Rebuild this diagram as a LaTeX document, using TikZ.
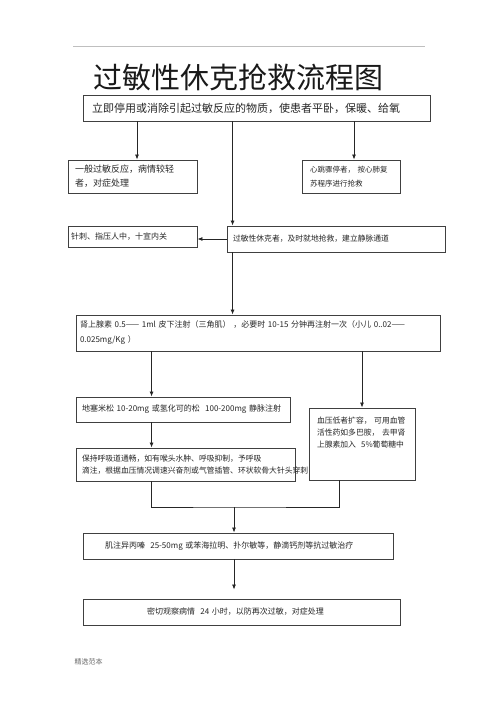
\documentclass[tikz,border=0pt]{standalone}
\usepackage{fontspec}
\setmainfont{Noto Sans CJK SC}
\usetikzlibrary{arrows.meta}

\begin{document}
\begin{tikzpicture}[x=1pt, y=-1pt, >={Latex[length=5pt,width=4pt]},
        box/.style={draw=black!75, line width=0.9pt, inner xsep=2pt, inner ysep=2pt, align=left, text=black!85, font=\fontsize{8}{12}\selectfont},
        link/.style={line width=0.8pt, black!85}]
        \useasboundingbox[fill=white] (0,0) rectangle (500,708);

        % Title
        \draw[black!25, line width=0.6pt] (73,46) -- (425,46);
        \node[font=\fontsize{29}{32}\selectfont, text=black!90] (title) at (238,77) {过敏性休克抢救流程图};

        % First steps
        \node[box, minimum width=347pt, minimum height=26pt, text width=329pt, font=\fontsize{11}{14}\selectfont] (stop) at (256.5,108) {立即停用或消除引起过敏反应的物质，使患者平卧，保暖、给氧};
        \node[box, minimum width=129pt, minimum height=33pt, text width=115pt, font=\fontsize{9}{14}\selectfont] (mild) at (132.5,176.5) {一般过敏反应，病情较轻\\者，对症处理};
        \node[box, minimum width=98pt, minimum height=33pt, text width=82pt, font=\fontsize{7.5}{14}\selectfont] (arrest) at (351,176.5) {心跳骤停者，~按心肺复\\苏程序进行抢救};
        \node[box, minimum width=129pt, minimum height=21pt, text width=123pt] (acup) at (132.5,236.5) {针刺、指压人中，十宣内关};
        \node[box, minimum width=218pt, minimum height=26pt, text width=206pt, font=\fontsize{7.8}{12}\selectfont] (shock) at (336,239) {过敏性休克者，及时就地抢救，建立静脉通道};

        % Drugs
        \node[box, minimum width=364pt, minimum height=36pt, text width=356pt, font=\fontsize{8}{15}\selectfont] (adren) at (258,333) {\mbox{肾上腺素~0.5——~1ml~皮下注射（三角肌）~，必要时~10-15~分钟再注射一次（小儿~0..02——}\\0.025mg/Kg~）};
        \node[box, minimum width=214pt, minimum height=25pt, text width=202pt] (dexa) at (183,409.5) {\mbox{地塞米松~10-20mg~或氢化可的松~~100-200mg~静脉注射}};
        \node[box, minimum width=106pt, minimum height=72pt, text width=90pt, font=\fontsize{7.8}{12}\selectfont] (bp) at (362,444) {血压低者扩容，~可用血管\\活性药如多巴胺，~去甲肾\\上腺素加入~~5\%葡萄糖中\rule[-24pt]{0pt}{0pt}};
        \node[box, minimum width=219pt, minimum height=33pt, text width=207pt, font=\fontsize{7.8}{11.5}\selectfont] (keep) at (185.5,464.5) {保持呼吸道通畅，如有喉头水肿、呼吸抑制，予呼吸\\\mbox{滴注，根据血压情况调速兴奋剂或气管插管、环状软骨大针头穿刺}};
        \node[box, minimum width=310pt, minimum height=26pt, text width=266pt] (inj) at (238,546) {\mbox{肌注异丙嗪~~25-50mg~或苯海拉明、扑尔敏等，静滴钙剂等抗过敏治疗}};
        \node[box, minimum width=317pt, minimum height=26pt, text width=189pt] (watch) at (241.5,612) {\mbox{密切观察病情~~24~小时，以防再次过敏，对症处理}};

        % Footer
        \node[font=\fontsize{7}{8}\selectfont, text=black!60] (foot) at (88.5,662) {精选范本};

        % Entry points
        \coordinate (mildin) at ([xshift=4.5pt]mild.north);
        \coordinate (arrestin) at ([xshift=3pt]arrest.north);
        \coordinate (shockin) at ([xshift=6pt]shock.north west);
        \coordinate (shockout) at ([xshift=6pt]shock.south west);
        \coordinate (leftline) at ([xshift=76pt]dexa.north west);
        \coordinate (bpout) at ([xshift=31pt]bp.south west);
        \coordinate (merge) at (234,507);
        \coordinate (gap) at ([yshift=9pt]watch.north);

        % Connectors
        \draw[link, ->] (mildin |- stop.south) -- (mildin);
        \draw[link, ->] (arrestin |- stop.south) -- (arrestin);
        \draw[link, ->] (shockin |- stop.south) -- (shockin);
        \draw[link, ->] (shock.west) -- (shock.west -| acup.east);
        \draw[link, ->] (shockout) -- (shockout |- adren.north);
        \draw[link, ->] (leftline |- adren.south) -- (leftline);
        \draw[link, ->] (adren.south -| bp.north) -- (bp.north);
        \draw[link, ->] (leftline |- dexa.south) -- (leftline |- keep.north);
        \draw[link] (leftline |- keep.south) |- (merge) -| (bpout);
        \draw[link, ->] (merge) -- (merge |- inj.north);
        \draw[link, ->] (merge |- inj.south) -- (merge |- gap);
    \end{tikzpicture}
\end{document}
